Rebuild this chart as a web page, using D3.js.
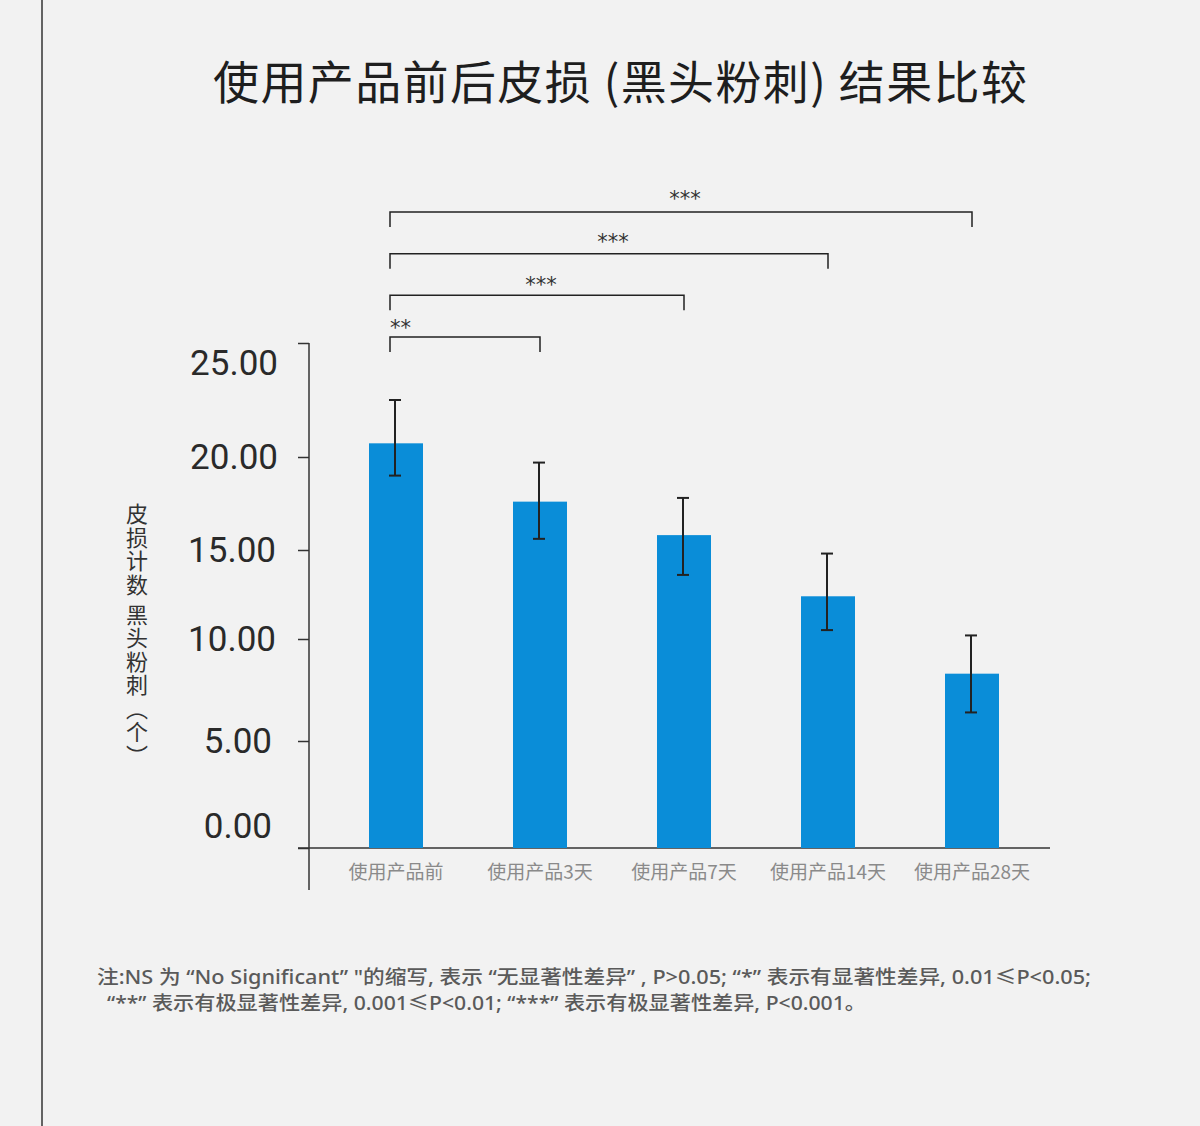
<!DOCTYPE html>
<html>
<head>
<meta charset="utf-8">
<script src="https://cdn.jsdelivr.net/npm/d3@7/dist/d3.min.js"></script>
<style>
  html, body { margin: 0; padding: 0; background: #f2f2f2; }
  svg { display: block; }
</style>
</head>
<body>
<svg id="chart" width="1200" height="1126"></svg>
<script>
// ---------- data ----------
const categories = ["使用产品前", "使用产品3天", "使用产品7天", "使用产品14天", "使用产品28天"];
const means      = [20.6, 17.6, 15.8, 12.4, 8.3];
const errUpper   = [22.5, 19.7, 17.8, 14.8, 10.2];
const errLower   = [19.0, 15.6, 13.6, 10.5, 6.4];
const yTickValues = [0, 5, 10, 15, 20, 25];
const bracketFrom   = [0, 0, 0, 0];
const bracketTo     = [1, 2, 3, 4];
const bracketLabels = ["**", "***", "***", "***"];
const bracketAnchor = ["start", "middle", "middle", "middle"];
const titleText = "使用产品前后皮损 (黑头粉刺) 结果比较";
const yTitle = "皮损计数 黑头粉刺（个）";
const noteLines = [
  "注:NS 为 “No Significant” \"的缩写, 表示 “无显著性差异” , P>0.05; “*” 表示有显著性差异, 0.01≤P<0.05;",
  "“**” 表示有极显著性差异, 0.001≤P<0.01; “***” 表示有极显著性差异, P<0.001。"
];

// ---------- layout ----------
const svg = d3.select("#chart");
const W = 1200, H = 1126;
const axisX = 309, axisTop = 343, axisBottom = 890, baseY = 848, baseRight = 1050;
const cjk = "'Noto Sans CJK SC', 'Noto Sans', sans-serif";
const latinFirst = "'Noto Sans', 'Noto Sans CJK SC', sans-serif";

svg.append("rect").attr("width", W).attr("height", H).attr("fill", "#f2f2f2");

// left border line
svg.append("line").attr("x1", 42).attr("x2", 42).attr("y1", 0).attr("y2", H)
  .attr("stroke", "#333").attr("stroke-width", 1.5);

// title
svg.append("text")
  .attr("x", 620).attr("y", 99)
  .attr("text-anchor", "middle")
  .attr("font-family", cjk).attr("font-size", 46).attr("fill", "#1e1e1e")
  .attr("textLength", 814).attr("lengthAdjust", "spacing")
  .text(titleText);

// scales (piecewise linear to follow the chart's tick spacing)
const y = d3.scaleLinear()
  .domain(yTickValues)
  .range([848, 741, 639, 550, 457, 343]);

const x = d3.scalePoint()
  .domain(categories)
  .range([396, 972]);
const barW = 54;

// y axis
const yAxis = d3.axisLeft(y)
  .tickValues(yTickValues)
  .tickSize(11)
  .tickPadding(20)
  .tickFormat(d3.format(".2f"));
const gy = svg.append("g").attr("transform", `translate(${axisX},0)`).call(yAxis);
gy.select(".domain").remove();
gy.selectAll(".tick line").attr("stroke", "#333").attr("stroke-width", 1.5);
gy.selectAll(".tick text")
  .attr("font-family", "Roboto, 'Liberation Sans', sans-serif")
  .attr("font-size", 35)
  .attr("fill", "#2a2a2a")
  .attr("dy", d => d === 25 ? "0.9em" : (d === 0 ? "-0.3em" : "0.32em"))
  .attr("dx", d => (d === 5 || d === 0) ? -6 : (d === 15 || d === 10 ? -2 : 0));

svg.append("line").attr("x1", axisX).attr("x2", axisX)
  .attr("y1", axisTop).attr("y2", axisBottom)
  .attr("stroke", "#333").attr("stroke-width", 1.5);
svg.append("line").attr("x1", axisX - 11).attr("x2", baseRight)
  .attr("y1", baseY).attr("y2", baseY)
  .attr("stroke", "#333").attr("stroke-width", 1.5);

// bars
svg.append("g").selectAll("rect").data(categories).join("rect")
  .attr("x", d => x(d) - barW / 2)
  .attr("y", (d, i) => y(means[i]))
  .attr("width", barW)
  .attr("height", (d, i) => y(0) - y(means[i]))
  .attr("fill", "#0a8dd8");

// error bars
const eg = svg.append("g").attr("stroke", "#222").attr("stroke-width", 2);
categories.forEach((c, i) => {
  const cx = x(c) - 1;
  eg.append("line").attr("x1", cx).attr("x2", cx).attr("y1", y(errUpper[i])).attr("y2", y(errLower[i]));
  eg.append("line").attr("x1", cx - 6).attr("x2", cx + 6).attr("y1", y(errUpper[i])).attr("y2", y(errUpper[i]));
  eg.append("line").attr("x1", cx - 6).attr("x2", cx + 6).attr("y1", y(errLower[i])).attr("y2", y(errLower[i]));
});

// x labels
svg.append("g").selectAll("text").data(categories).join("text")
  .attr("x", d => x(d))
  .attr("y", 879)
  .attr("text-anchor", "middle")
  .attr("font-family", cjk).attr("font-size", 19).attr("fill", "#8a8a8a")
  .text(d => d);

// significance brackets
const level = d3.scaleLinear().domain([0, 3]).range([337, 212]);
const bg = svg.append("g");
bracketFrom.forEach((f, i) => {
  const x1 = x(categories[f]) - 6;
  const x2 = x(categories[bracketTo[i]]);
  const by = level(i);
  bg.append("path")
    .attr("d", `M${x1},${by + 15}V${by}H${x2}V${by + 15}`)
    .attr("fill", "none").attr("stroke", "#222").attr("stroke-width", 1.5);
  bg.append("text")
    .attr("x", bracketAnchor[i] === "start" ? x1 : (x1 + x2) / 2 + 4)
    .attr("y", by - 2 - i * 1.5)
    .attr("text-anchor", bracketAnchor[i])
    .attr("font-family", "'DejaVu Sans', sans-serif").attr("font-size", 21).attr("fill", "#333")
    .text(bracketLabels[i]);
});

// y axis title (vertical)
svg.append("text")
  .attr("x", 137).attr("y", 503)
  .attr("font-family", cjk).attr("font-size", 22).attr("fill", "#333")
  .attr("letter-spacing", 1.5)
  .style("writing-mode", "vertical-rl")
  .text(yTitle);

// footnote
svg.append("text").attr("x", 97).attr("y", 984)
  .attr("font-family", latinFirst).attr("font-size", 19).attr("font-weight", 500).attr("fill", "#5a5a5a")
  .attr("textLength", 994).attr("lengthAdjust", "spacingAndGlyphs")
  .text(noteLines[0]);
svg.append("text").attr("x", 107).attr("y", 1010)
  .attr("font-family", latinFirst).attr("font-size", 19).attr("font-weight", 500).attr("fill", "#5a5a5a")
  .attr("textLength", 759).attr("lengthAdjust", "spacingAndGlyphs")
  .text(noteLines[1]);
</script>
</body>
</html>
